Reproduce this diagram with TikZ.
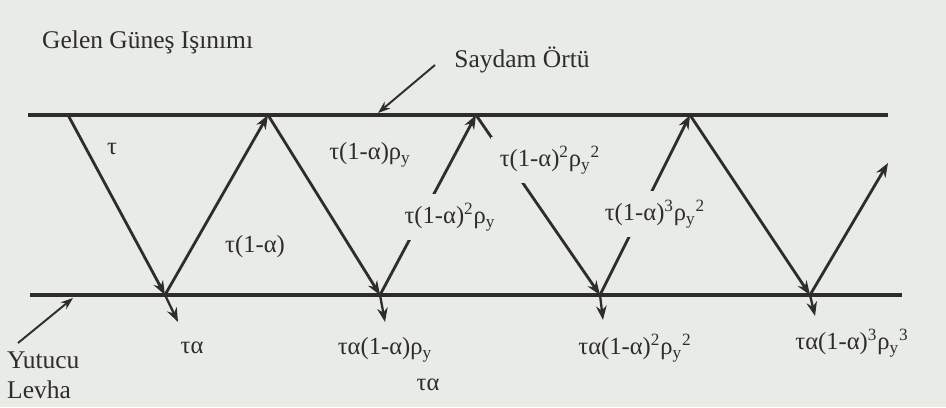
\documentclass[tikz,border=0pt]{standalone}
\usepackage{fontspec}
\setmainfont{Liberation Serif}
\usetikzlibrary{arrows.meta}
\definecolor{paper}{RGB}{233,235,231}
\definecolor{ink}{RGB}{45,45,45}
\newcommand{\sub}[1]{\textsubscript{#1}}
\newcommand{\sups}[1]{\textsuperscript{#1}}
\begin{document}
\begin{tikzpicture}[
    ray/.style={draw=ink, line width=1.6pt, -{Stealth[length=8pt,width=6pt]}},
    cover/.style={draw=ink, line width=2pt},
    pointer/.style={draw=ink, line width=1.1pt, -{Stealth[length=7pt,width=5pt]}},
    lbl/.style={text=ink, font=\fontsize{14}{16}\selectfont},
    gap/.style={lbl, fill=paper, inner sep=5pt},
    caption/.style={text=ink, font=\fontsize{14.5}{17}\selectfont, align=left},
  ]
  \fill[paper] (0,0) rectangle (18.92,8.14);
  % plates
  \coordinate (ctl) at (0.56,5.84);
  \coordinate (ctr) at (17.76,5.84);
  \coordinate (abl) at (0.60,2.24);
  \coordinate (abr) at (18.04,2.24);
  \draw[cover] (ctl) -- (ctr);
  \draw[cover] (abl) -- (abr);
  % reflection points
  \coordinate (t0) at (1.36,5.84);
  \coordinate (b1) at (3.30,2.24);
  \coordinate (t1) at (5.36,5.84);
  \coordinate (b2) at (7.60,2.24);
  \coordinate (t2) at (9.52,5.84);
  \coordinate (b3) at (12.00,2.24);
  \coordinate (t3) at (13.80,5.84);
  \coordinate (b4) at (16.20,2.24);
  \coordinate (out) at (17.76,4.88);
  \draw[ray] (t0) -- (b1);
  \draw[ray] (b1) -- (t1);
  \draw[ray] (t1) -- (b2);
  \draw[ray] (b2) -- (t2);
  \draw[ray] (t2) -- (b3);
  \draw[ray] (b3) -- (t3);
  \draw[ray] (t3) -- (b4);
  \draw[ray] (b4) -- (out);
  % absorbed parts
  \coordinate (d1) at (3.56,1.70);
  \coordinate (d2) at (7.70,1.70);
  \coordinate (d3) at (12.06,1.74);
  \coordinate (d4) at (16.30,1.82);
  \draw[ray, line width=1.3pt] (b1) -- (d1);
  \draw[ray, line width=1.3pt] (b2) -- (d2);
  \draw[ray, line width=1.3pt] (b3) -- (d3);
  \draw[ray, line width=1.3pt] (b4) -- (d4);
  % texts
  \node[caption, anchor=west] (gelen) at (0.72,7.30) {Gelen Güneş Işınımı};
  \node[caption] (ortu) at (10.44,6.94) {Saydam Örtü};
  \node[caption, anchor=west] (levha) at (0.02,0.64) {Yutucu\\Levha};
  \coordinate (ortuhit) at (7.56,5.88);
  \coordinate (levhahit) at (1.46,2.18);
  \draw[pointer] (8.70,6.84) -- (ortuhit);
  \draw[pointer] (0.36,1.28) -- (levhahit);
  \node[lbl] (r0) at (2.24,5.16) {τ};
  \node[lbl] (r1) at (5.10,3.20) {τ(1-α)};
  \node[lbl] (r2) at (7.40,5.04) {τ(1-α)ρ\sub{y}};
  \node[gap] (r3) at (9.00,3.80) {τ(1-α)\sups{2}ρ\sub{y}};
  \node[gap] (r4) at (11.00,4.94) {τ(1-α)\sups{2}ρ\sub{y}\sups{2}};
  \node[gap] (r5) at (13.10,3.86) {τ(1-α)\sups{3}ρ\sub{y}\sups{2}};
  \node[lbl] (a1) at (3.84,1.18) {τα};
  \node[lbl] (a2) at (7.70,1.14) {τα(1-α)ρ\sub{y}};
  \node[lbl] (a0) at (8.56,0.44) {τα};
  \node[lbl] (a3) at (12.70,1.18) {τα(1-α)\sups{2}ρ\sub{y}\sups{2}};
  \node[lbl] (a4) at (17.04,1.28) {τα(1-α)\sups{3}ρ\sub{y}\sups{3}};
\end{tikzpicture}
\end{document}
